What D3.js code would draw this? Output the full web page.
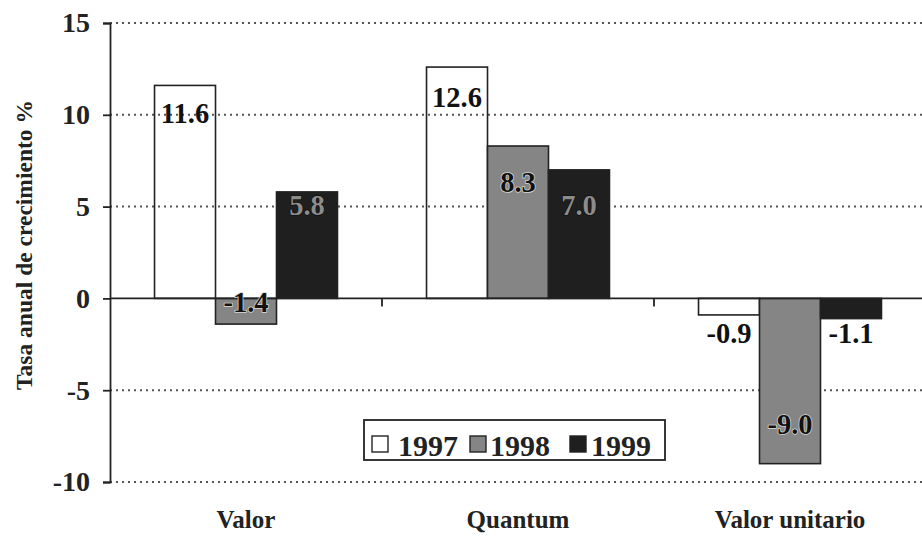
<!DOCTYPE html>
<html><head><meta charset="utf-8">
<script src="https://cdn.jsdelivr.net/npm/d3@7"></script>
<style>
html,body{margin:0;padding:0;background:#fff;}
svg text{font-family:"Liberation Serif","Times New Roman",serif;font-weight:bold;}
</style></head>
<body><svg id="c" width="922" height="536"></svg>
<script>
const categories = ["Valor", "Quantum", "Valor unitario"];
const years = ["1997", "1998", "1999"];
const v1997 = [11.6, 12.6, -0.9];
const v1998 = [-1.4, 8.3, -9.0];
const v1999 = [5.8, 7.0, -1.1];
const yTicks = [-10, -5, 0, 5, 10, 15];
const yTitle = "Tasa anual de crecimiento %";

(function () {
const series = [v1997, v1998, v1999];
const fills = ["none", "#858585", "#1f1f1f"];
const legendFills = ["#ffffff", "#858585", "#1f1f1f"];

const svg = d3.select("#c");
const mL = 110, mR = 926, mT = 23, mB = 482;
const x = d3.scaleBand().domain(categories).range([mL, mR]).paddingInner(0).paddingOuter(0);
const xs = d3.scaleBand().domain(years).range([0, x.bandwidth()]).paddingInner(0).paddingOuter(0.73);
const y = d3.scaleLinear().domain([-10, 15]).range([mB, mT]);

// gridlines
svg.append("g").selectAll("line").data(yTicks.filter(d => d !== 0)).join("line")
  .attr("x1", mL).attr("x2", 922).attr("y1", d => y(d)).attr("y2", d => y(d))
  .attr("stroke", "#555").attr("stroke-width", 2).attr("stroke-dasharray", "2,4");

// bars
const data = [];
categories.forEach((c, i) => years.forEach((yr, j) => data.push({c, i, yr, j, v: series[j][i]})));
svg.append("g").selectAll("rect").data(data).join("rect")
  .attr("x", d => x(d.c) + xs(d.yr))
  .attr("width", xs.bandwidth())
  .attr("y", d => y(Math.max(0, d.v)))
  .attr("height", d => Math.abs(y(d.v) - y(0)))
  .attr("fill", d => fills[d.j])
  .attr("stroke", "#222").attr("stroke-width", 1.6);

// y axis
const yAxis = d3.axisLeft(y).tickValues(yTicks).tickSize(7).tickPadding(13).tickFormat(d => String(d));
const gy = svg.append("g").attr("transform", `translate(${mL},0)`).call(yAxis);
gy.select(".domain").attr("stroke", "#222").attr("stroke-width", 1.8);
gy.selectAll(".tick line").attr("stroke", "#222").attr("stroke-width", 1.8);
gy.selectAll(".tick text").attr("font-size", 28).attr("fill", "#222")
  .style("font-family", '"Liberation Serif",serif').style("font-weight", "bold");

// x axis at zero
const gx = svg.append("g").attr("transform", `translate(0,${y(0)})`);
gx.append("line").attr("x1", mL).attr("x2", 922).attr("stroke", "#222").attr("stroke-width", 1.8);
gx.selectAll("line.t").data(categories.slice(1)).join("line").attr("class", "t")
  .attr("x1", d => x(d)).attr("x2", d => x(d)).attr("y1", 0).attr("y2", 8)
  .attr("stroke", "#222").attr("stroke-width", 1.8);

// category labels
svg.append("g").selectAll("text").data(categories).join("text")
  .attr("x", d => x(d) + x.bandwidth() / 2).attr("y", 528)
  .attr("text-anchor", "middle").attr("font-size", 25).attr("fill", "#222").text(d => d);

// y title
svg.append("text").attr("transform", `translate(32,245) rotate(-90)`)
  .attr("text-anchor", "middle").attr("font-size", 23.5).attr("fill", "#222").text(yTitle);

// value labels: baseline offsets (styling only)
const dyTop = [[38, 0, 23], [40, 46, 45], [0, 0, 0]];
function labelPos(d) {
  const cx = x(d.c) + xs(d.yr) + xs.bandwidth() / 2;
  if (d.c === "Valor unitario" && d.j !== 1) return [cx, y(0) + 45];
  if (d.c === "Valor unitario") return [cx, y(d.v) - 30];
  if (d.v >= 0) return [cx, y(d.v) + dyTop[d.i][d.j]];
  return [cx, y(0) + 14];
}
const fillFor = d => (d.j === 2 && d.v > 0) ? "#8c8c8c" : "#111";
const haloFor = d => d.j === 1 ? "#d8d8d8" : (d.j === 2 && d.v > 0 ? "#111" : "none");
svg.append("g").selectAll("text").data(data).join("text")
  .attr("x", d => labelPos(d)[0]).attr("y", d => labelPos(d)[1])
  .attr("text-anchor", "middle").attr("font-size", 28.5)
  .attr("fill", fillFor)
  .attr("stroke", haloFor).attr("stroke-width", 1.5).attr("paint-order", "stroke")
  .text(d => d.v.toFixed(1));

// legend
const lg = svg.append("g").attr("transform", "translate(364,420)");
lg.append("rect").attr("width", 301).attr("height", 40).attr("fill", "#fff")
  .attr("stroke", "#222").attr("stroke-width", 1.8);
const lsq = [8, 106, 206], ltx = [34, 126, 227];
years.forEach((yr, j) => {
  lg.append("rect").attr("x", lsq[j]).attr("y", 16).attr("width", 16).attr("height", 16)
    .attr("fill", legendFills[j]).attr("stroke", "#222").attr("stroke-width", 1.4);
  lg.append("text").attr("x", ltx[j]).attr("y", 36).attr("font-size", 30).attr("fill", "#222").text(yr);
});
})();
</script></body></html>
